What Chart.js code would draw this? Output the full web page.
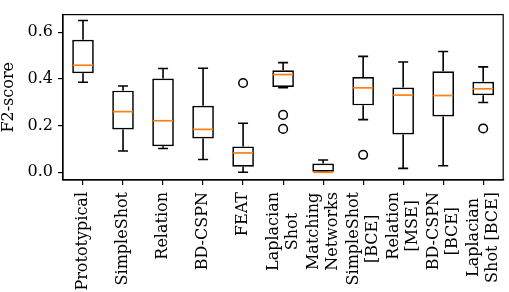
<!DOCTYPE html>
<html>
<head>
<meta charset="utf-8">
<script src="https://cdn.jsdelivr.net/npm/chart.js@4/dist/chart.umd.min.js"></script>
<style>
  html, body { margin: 0; padding: 0; background: #fff; }
  #wrap { width: 509px; height: 292px; }
</style>
</head>
<body>
<div id="wrap"><canvas id="boxChart" width="509" height="292"></canvas></div>
<script>
// 手法名
const methods = [
  'Prototypical', 'SimpleShot', 'Relation', 'BD-CSPN', 'FEAT',
  ['Laplacian', 'Shot'], ['Matching', 'Networks'], ['SimpleShot', '[BCE]'],
  ['Relation', '[MSE]'], ['BD-CSPN', '[BCE]'], ['Laplacian', 'Shot [BCE]']
];

// 箱ひげ図の値
const whiskerLow  = [0.386, 0.091, 0.102, 0.055, 0.000, 0.363, 0.000, 0.226, 0.017, 0.028, 0.299];
const q1          = [0.425, 0.184, 0.112, 0.145, 0.024, 0.366, 0.000, 0.287, 0.162, 0.239, 0.330];
const median      = [0.459, 0.260, 0.221, 0.184, 0.083, 0.419, 0.000, 0.362, 0.331, 0.329, 0.358];
const q3          = [0.568, 0.350, 0.402, 0.285, 0.111, 0.437, 0.038, 0.408, 0.363, 0.433, 0.388];
const whiskerHigh = [0.651, 0.370, 0.445, 0.446, 0.210, 0.470, 0.053, 0.497, 0.473, 0.518, 0.452];

// 外れ値 [手法のindex, 値]
const outlierIndex = [4, 5, 5, 7, 10];
const outlierValue = [0.383, 0.246, 0.186, 0.075, 0.188];

const yTicks = [0.0, 0.2, 0.4, 0.6];

const FONT = "'DejaVu Serif', serif";

// ひげ・キャップ・中央値・枠・x軸ラベルを描く
const boxPlugin = {
  id: 'boxParts',
  afterDatasetsDraw(chart) {
    const ctx = chart.ctx;
    const xs = chart.scales.x;
    const ys = chart.scales.y;
    const step = xs.getPixelForValue(1) - xs.getPixelForValue(0);
    ctx.save();
    ctx.lineCap = 'butt';
    for (let i = 0; i < methods.length; i++) {
      const x = xs.getPixelForValue(i);
      ctx.strokeStyle = '#000';
      ctx.lineWidth = 1.6;
      ctx.beginPath();
      ctx.moveTo(x, ys.getPixelForValue(q1[i]));
      ctx.lineTo(x, ys.getPixelForValue(whiskerLow[i]));
      ctx.moveTo(x, ys.getPixelForValue(q3[i]));
      ctx.lineTo(x, ys.getPixelForValue(whiskerHigh[i]));
      const cw = step * 0.125;
      ctx.moveTo(x - cw, ys.getPixelForValue(whiskerLow[i]));
      ctx.lineTo(x + cw, ys.getPixelForValue(whiskerLow[i]));
      ctx.moveTo(x - cw, ys.getPixelForValue(whiskerHigh[i]));
      ctx.lineTo(x + cw, ys.getPixelForValue(whiskerHigh[i]));
      ctx.stroke();
      const mw = step * 0.25;
      ctx.strokeStyle = '#ff7f0e';
      ctx.lineWidth = 1.7;
      ctx.beginPath();
      ctx.moveTo(x - mw, ys.getPixelForValue(median[i]));
      ctx.lineTo(x + mw, ys.getPixelForValue(median[i]));
      ctx.stroke();
    }
    const a = chart.chartArea;
    ctx.strokeStyle = '#000';
    ctx.lineWidth = 1.2;
    ctx.strokeRect(a.left, a.top, a.right - a.left, a.bottom - a.top);
    ctx.restore();
  },
  afterDraw(chart) {
    const ctx = chart.ctx;
    const xs = chart.scales.x;
    const top = chart.chartArea.bottom + 12;
    const lineH = 19;
    ctx.save();
    ctx.font = '16px ' + FONT;
    ctx.fillStyle = '#000';
    ctx.textAlign = 'center';
    ctx.textBaseline = 'middle';
    for (let i = 0; i < methods.length; i++) {
      const lines = Array.isArray(methods[i]) ? methods[i] : [methods[i]];
      const w = Math.max(...lines.map(l => ctx.measureText(l).width));
      ctx.save();
      ctx.translate(xs.getPixelForValue(i), top);
      ctx.rotate(-Math.PI / 2);
      lines.forEach((l, j) => {
        ctx.fillText(l, -w / 2, (j - (lines.length - 1) / 2) * lineH);
      });
      ctx.restore();
    }
    ctx.restore();
  }
};

const ctx = document.getElementById('boxChart');
new Chart(ctx, {
  type: 'bar',
  data: {
    labels: methods.map((m, i) => i),
    datasets: [{
      type: 'bar',
      data: q1.map((v, i) => [v, q3[i]]),
      backgroundColor: '#ffffff',
      borderColor: '#000000',
      borderWidth: 1.7,
      borderSkipped: false,
      barPercentage: 0.54,
      categoryPercentage: 1.0,
      order: 2
    }, {
      type: 'line',
      data: outlierIndex.map((k, i) => ({ x: k, y: outlierValue[i] })),
      showLine: false,
      pointRadius: 4.3,
      pointBorderWidth: 1.5,
      pointBackgroundColor: 'rgba(0,0,0,0)',
      pointBorderColor: '#000',
      order: 1
    }]
  },
  options: {
    responsive: false,
    animation: false,
    devicePixelRatio: 1,
    layout: { padding: { top: 1, right: 1, left: 0, bottom: 0 } },
    plugins: {
      legend: { display: false },
      tooltip: { enabled: false }
    },
    scales: {
      x: {
        type: 'category',
        offset: true,
        grid: {
          offset: false,
          drawOnChartArea: false,
          drawTicks: true,
          tickLength: 5,
          color: '#000',
          lineWidth: 1.2
        },
        border: { display: true, color: '#000', width: 1.2 },
        ticks: { display: false },
        afterFit(scale) { scale.height = 112; }
      },
      y: {
        min: -0.033,
        max: 0.676,
        grid: {
          drawOnChartArea: false,
          drawTicks: true,
          tickLength: 5,
          color: '#000',
          lineWidth: 1.2
        },
        border: { display: true, color: '#000', width: 1.2 },
        afterBuildTicks(scale) {
          scale.ticks = yTicks.map(v => ({ value: v }));
        },
        ticks: {
          padding: 5,
          color: '#000',
          font: { family: FONT, size: 16 },
          callback: v => v.toFixed(1)
        },
        title: {
          display: true,
          text: 'F2-score',
          color: '#000',
          padding: { top: 0, bottom: 0 },
          font: { family: FONT, size: 16, lineHeight: 1.1 }
        },
        afterFit(scale) { scale.width = 63; }
      }
    }
  },
  plugins: [boxPlugin]
});
</script>
</body>
</html>
